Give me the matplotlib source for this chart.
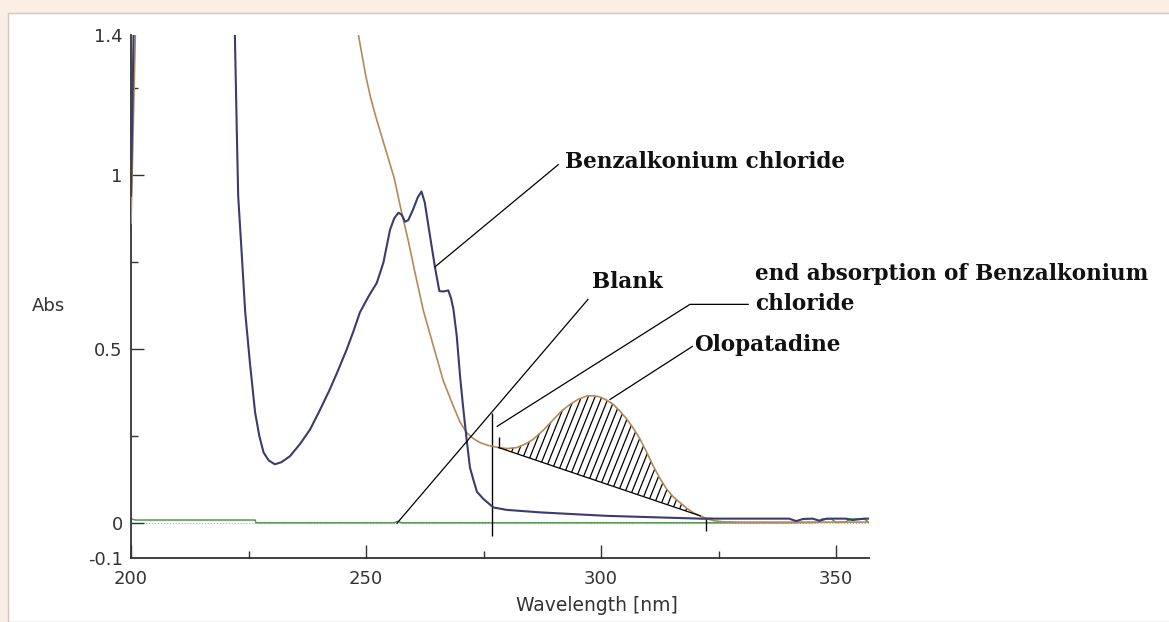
import numpy as np
import matplotlib
matplotlib.use("Agg")
import matplotlib.pyplot as plt
from matplotlib.patches import Rectangle
from matplotlib.collections import LineCollection

# spectra (wavelength in nm, absorbance); nan = off scale gap
blue_wl = [200.0, 200.3, 200.6, np.nan, 222.0, 222.1, 222.5, 222.8, 223.5, 224.3,
           225.3, 226.4, 227.3, 228.2, 229.3, 230.6, 232.0, 233.8, 236.0, 238.1,
           240.2, 242.3, 244.1, 245.9, 247.3, 248.7, 250.5, 252.3, 253.7, 255.1,
           256.0, 256.9, 257.6, 258.3, 259.0, 260.0, 261.0, 261.8, 262.5, 263.4,
           264.7, 265.6, 266.5, 267.5, 268.1, 268.6, 269.3, 270.0, 270.7, 271.4,
           272.1, 272.8, 273.6, 275.0, 277.1, 280.0, 287.0, 294.0, 301.2, 311.0,
           321.1, 330.0, 340.0, 341.5, 343.0, 345.0, 346.5, 348.0, 352.0, 353.5,
           356.0, 357.0]
blue_abs = [0.94, 1.20, 1.45, np.nan, 1.45, 1.40, 1.13, 0.94, 0.785, 0.605,
            0.46, 0.318, 0.25, 0.203, 0.18, 0.169, 0.175, 0.192, 0.228, 0.269,
            0.325, 0.384, 0.44, 0.499, 0.55, 0.605, 0.65, 0.69, 0.748, 0.842,
            0.875, 0.891, 0.885, 0.865, 0.87, 0.90, 0.935, 0.952, 0.92, 0.842,
            0.732, 0.666, 0.665, 0.668, 0.645, 0.613, 0.537, 0.422, 0.327, 0.241,
            0.16, 0.126, 0.09, 0.069, 0.045, 0.038, 0.031, 0.026, 0.021, 0.017,
            0.013, 0.013, 0.013, 0.006, 0.012, 0.013, 0.007, 0.013, 0.013, 0.009,
            0.013, 0.013]

brown_wl = [200.0, 200.5, 201.0, np.nan, 247.8, 248.4, 250.0, 251.0, 252.0, 254.0,
            256.0, 257.6, 259.0, 260.4, 262.2, 264.3, 266.4, 268.6, 270.0, 271.4,
            272.8, 274.3, 276.0, 278.2, 280.0, 282.1, 284.0, 285.6, 287.8, 289.9,
            291.6, 293.4, 295.2, 297.0, 298.4, 299.8, 301.2, 302.6, 304.0, 305.5,
            306.9, 308.3, 309.7, 311.1, 312.5, 314.0, 315.4, 316.8, 318.2, 319.6,
            321.1, 322.5, 324.0, 326.0, 330.0, 340.0, 350.0, 357.0]
brown_abs = [0.86, 1.15, 1.45, np.nan, 1.45, 1.40, 1.28, 1.22, 1.17, 1.08,
             0.99, 0.89, 0.81, 0.72, 0.61, 0.51, 0.41, 0.335, 0.29, 0.26,
             0.243, 0.231, 0.223, 0.217, 0.214, 0.217, 0.228, 0.241, 0.268, 0.298,
             0.322, 0.341, 0.356, 0.365, 0.366, 0.362, 0.353, 0.341, 0.322, 0.298,
             0.272, 0.241, 0.204, 0.164, 0.129, 0.097, 0.075, 0.059, 0.043, 0.030,
             0.021, 0.013, 0.007, 0.004, 0.003, 0.003, 0.003, 0.003]

green_wl = [200.0, 201.0, 226.4, 226.6, 256.0, 256.8, 257.6, 300.0, 340.0, 346.0,
            347.0, 349.0, 350.0, 352.0, 353.0, 356.0, 357.0]
green_abs = [0.012, 0.009, 0.009, 0.001, 0.001, 0.005, 0.001, 0.001, 0.001, 0.002,
             0.012, 0.012, 0.002, 0.003, 0.012, 0.012, 0.002]

# tangent (baseline) under the olopatadine band
base_wl = [278.2, 321.1]
base_abs = [0.217, 0.021]

# labels: text, text anchor, leader line points
labels = ["Benzalkonium chloride", "Blank",
          "end absorption of Benzalkonium\nchloride", "Olopatadine"]
label_pos = [(292.3, 1.037), (298.1, 0.693), (332.8, 0.672), (319.8, 0.51)]
leader_x = [[264.7, 290.9], [256.6, 297.2], [277.9, 318.9, 331.3], [301.9, 319.4]]
leader_y = [[0.736, 1.029], [0.0, 0.642], [0.278, 0.628, 0.628], [0.355, 0.507]]

fig = plt.figure(figsize=(11.69, 6.22), dpi=100, facecolor="#fbeee4")
fig.patches.append(Rectangle((8 / 1169, 0), 1, (622 - 13) / 622, transform=fig.transFigure,
                             facecolor="white", edgecolor="#cfc6bd", lw=1, zorder=-1))
ax = fig.add_axes([131 / 1169, 64 / 622, 738 / 1169, 522.6 / 622])
ax.set_facecolor("white")

ax.axhline(0, color="#aaaaaa", lw=0.8, ls=":", zorder=1)
ax.plot(green_wl, green_abs, color="#4e9a4e", lw=1.1, zorder=2)
ax.plot(brown_wl, brown_abs, color="#b38a5a", lw=1.2, zorder=3)
ax.plot(blue_wl, blue_abs, color="#393c6c", lw=1.5, zorder=4)

ax.set_xlim(200, 357)
ax.set_ylim(-0.1, 1.4)

# hatched area between the tangent and the olopatadine band (steep hatch lines)
bw = np.array(brown_wl)
ba = np.array(brown_abs)
sel = (bw >= base_wl[0]) & (bw <= base_wl[1])
band = ax.fill_between(bw[sel], np.interp(bw[sel], base_wl, base_abs), ba[sel],
                       facecolor="none", lw=0, zorder=2)
starts = np.arange(base_wl[0] - 12, base_wl[1] + 1, 1.45)
segs = [[(s, 0.0), (s + 15, 0.505)] for s in starts]
hatch = LineCollection(segs, colors="black", linewidths=0.9, zorder=2)
ax.add_collection(hatch)
hatch.set_clip_path(band.get_paths()[0], ax.transData)
ax.plot(base_wl, base_abs, color="black", lw=0.9, zorder=3)

# markers of the measured range
ax.vlines(276.7, -0.036, 0.317, color="black", lw=1)
ax.vlines(base_wl[0], base_abs[0], base_abs[0] + 0.03, color="black", lw=1)
ax.vlines(322.3, -0.023, 0.014, color="black", lw=1)
ax.hlines(0.014, 321.0, 323.6, color="black", lw=1)

for txt, (tx, ty), lx, ly in zip(labels, label_pos, leader_x, leader_y):
    ax.plot(lx, ly, color="black", lw=0.9, clip_on=False, zorder=5)
    ax.text(tx, ty, txt, ha="left", va="center", family="DejaVu Serif", weight="bold",
            fontsize=15.5, color="#111111", linespacing=1.5, clip_on=False)

ax.set_xticks([200, 250, 300, 350])
ax.set_xticks([225, 275, 325], minor=True)
ax.set_yticks([-0.1, 0, 0.5, 1, 1.4])
ax.set_yticklabels(["-0.1", "0", "0.5", "1", "1.4"])
ax.set_yticks([0.25, 0.75, 1.25], minor=True)
for i in (0, 4):
    ax.yaxis.get_major_ticks()[i].tick1line.set_visible(False)

ax.tick_params(which="major", direction="in", length=9.5, width=1, color="#333333",
               labelsize=13, labelcolor="#333333")
ax.tick_params(which="minor", direction="in", length=5, width=1, color="#333333")
ax.tick_params(axis="x", pad=9)
ax.tick_params(axis="y", pad=6)
for s in ("top", "right"):
    ax.spines[s].set_visible(False)
for s in ("left", "bottom"):
    ax.spines[s].set_color("#333333")
    ax.spines[s].set_linewidth(1.3)

ax.set_xlabel("Wavelength [nm]", fontsize=13.5, color="#333333")
ax.xaxis.set_label_coords(0.632, -0.09)
ax.xaxis.label.set_va("center")
ax.set_ylabel("Abs", fontsize=13, color="#333333", rotation=0, ha="center", va="center")
ax.yaxis.set_label_coords(-0.112, 0.482)

fig.savefig("out.png", dpi=100, facecolor=fig.get_facecolor())
